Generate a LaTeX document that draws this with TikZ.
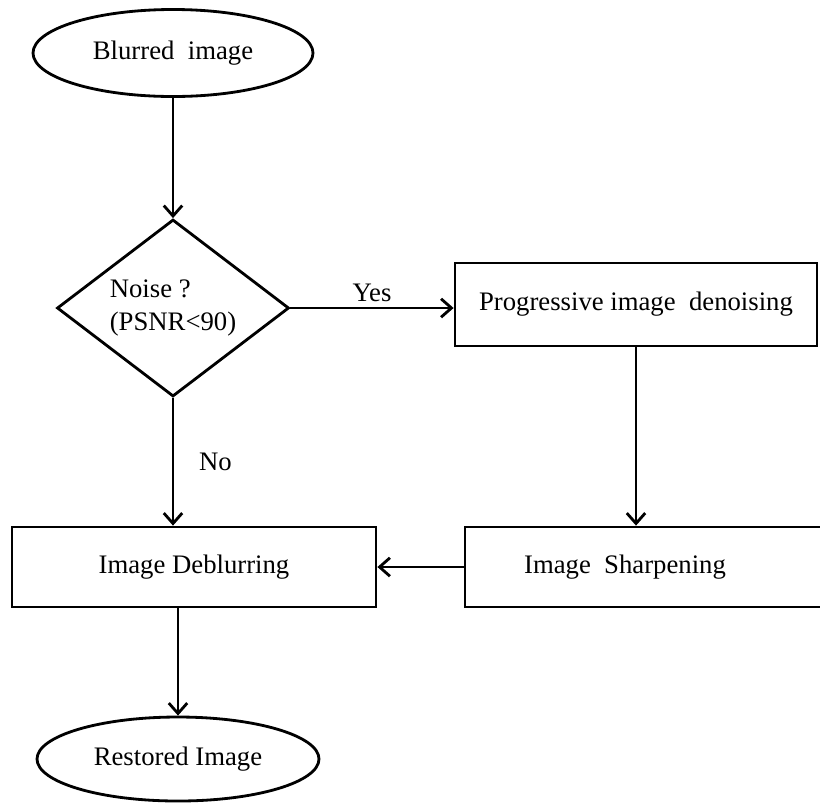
\documentclass[tikz,border=0pt]{standalone}
\usepackage{fontspec}
\setmainfont{Liberation Serif}
\usepackage{xcolor}
\usepackage{tikz}
\usetikzlibrary{arrows.meta}
\usetikzlibrary{positioning}
\usetikzlibrary{shapes.geometric}
\tikzstyle{terminal} = [ellipse, draw=black, line width=2pt, align=center, font=\fontsize{19}{24}\selectfont, fill=white]
\tikzstyle{process} = [rectangle, draw=black, line width=2pt, align=center, font=\fontsize{19}{24}\selectfont, fill=white]
\tikzstyle{decision} = [diamond, draw=black, line width=2pt, align=left, shape aspect=1.3, inner sep=0pt, font=\fontsize{19}{24}\selectfont, fill=white]
\tikzstyle{arrow} = [line width=2pt,-{Straight Barb[length=2.6mm,width=4.6mm]}]
\tikzstyle{lbl} = [font=\fontsize{19}{24}\selectfont]

\begin{document}
\begin{tikzpicture}
    \clip (0,0) rectangle (20.5,-20.05);
    \node(blur)[terminal, minimum width=7cm, minimum height=2.175cm] at (4.325,-1.325){Blurred\ \ image};
    \node(noise)[node distance=6.375cm, decision, minimum width=5.8cm, minimum height=4.425cm, below of=blur]{Noise ?\\(PSNR<90)};
    \node(denoise)[node distance=11.575cm, process, right of=noise, minimum width=9.05cm, minimum height=2.075cm, yshift=0.09cm]{Progressive image\ \ denoising};
    \node(sharpen)[node distance=6.475cm, process, below of=noise, xshift=11.875cm, minimum width=9.15cm, minimum height=2cm]{Image\ \ Sharpening\hspace{1.15cm}};
    \node(deblur)[node distance=6.475cm, process, below of=noise, xshift=0.525cm, minimum width=9.1cm, minimum height=2cm]{Image Deblurring};
    \node(restored)[node distance=11.275cm, terminal, below of=noise, xshift=0.125cm, minimum width=7.05cm, minimum height=2.1cm]{Restored Image};

    \draw[arrow](blur)--(noise);
    \draw[arrow](noise.east)--node[lbl, anchor=south]{Yes} (noise.east -| denoise.west);
    \draw[arrow](denoise.south)--(denoise.south |- sharpen.north);
    \draw[arrow](sharpen.west |- deblur.east)--(deblur.east);
    \draw[arrow](noise.south)--node[lbl, anchor=west, xshift=5mm]{No} (noise.south |- deblur.north);
    \draw[arrow](restored.north |- deblur.south)--(restored.north);
  \end{tikzpicture}
\end{document}
